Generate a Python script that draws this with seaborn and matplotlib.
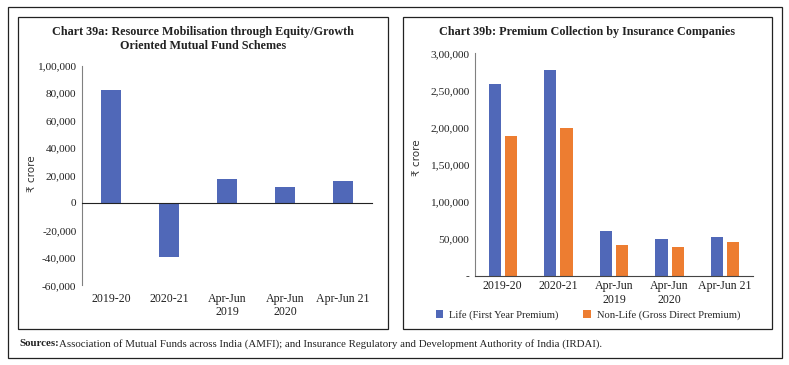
import pandas as pd
import seaborn as sns
import matplotlib.pyplot as plt
import matplotlib.transforms as mtransforms
from matplotlib.patches import Rectangle

# Dados (₹ crore)
categorias = ['2019-20', '2020-21', 'Apr-Jun\n2019', 'Apr-Jun\n2020', 'Apr-Jun 21']
fundos_equity = [82200, -39600, 17100, 11700, 15900]
vida = [259000, 278000, 60700, 49600, 52700]
nao_vida = [189000, 199000, 41100, 39300, 45200]
serie_vida = 'Life (First Year Premium)'
serie_nao_vida = 'Non-Life (Gross Direct Premium)'

AZUL = '#5068B8'
LARANJA = '#ED7D31'

sns.set_style('white')
plt.rcParams['font.family'] = ['Liberation Serif', 'DejaVu Serif', 'DejaVu Sans']
plt.rcParams['axes.edgecolor'] = '#808080'
plt.rcParams['xtick.color'] = '#808080'
plt.rcParams['ytick.color'] = '#808080'
plt.rcParams['xtick.labelcolor'] = '#222222'
plt.rcParams['ytick.labelcolor'] = '#222222'


def formato_indiano(v, zero='0'):
    n = int(round(abs(v)))
    if n == 0:
        return zero
    s = str(n)
    if len(s) > 3:
        cabeca, cauda = s[:-3], s[-3:]
        grupos = []
        while len(cabeca) > 2:
            grupos.insert(0, cabeca[-2:])
            cabeca = cabeca[:-2]
        grupos.insert(0, cabeca)
        s = ','.join(grupos) + ',' + cauda
    return ('-' if v < 0 else '') + s


fig = plt.figure(figsize=(7.89, 3.65), dpi=100)
W, H = 789, 365

def caixa(x0, y0, x1, y1):
    fig.patches.append(Rectangle((x0 / W, 1 - y1 / H), (x1 - x0) / W, (y1 - y0) / H,
                                 transform=fig.transFigure, fill=False,
                                 edgecolor='#222222', linewidth=0.9))

caixa(8, 7, 782, 358)
caixa(18, 17, 388, 329)
caixa(403, 17, 772, 329)

TAM_TICK = 8.2
TAM_CAT = 8.6

# ---------- Chart 39a ----------
ax1 = fig.add_axes([82 / W, 1 - 285.3 / H, 290 / W, 219.6 / H])
df1 = pd.DataFrame({'cat': categorias, 'valor': fundos_equity})
sns.barplot(data=df1, x='cat', y='valor', color=AZUL, width=0.33, saturation=1,
            ax=ax1, edgecolor='none')
ax1.set_ylim(-60000, 100000)
ax1.set_xlim(-0.5, 4.5)
ax1.set_yticks(range(-60000, 100001, 20000))
ax1.set_yticklabels([formato_indiano(v) for v in range(-60000, 100001, 20000)], fontsize=TAM_TICK)
for lado in ['top', 'right']:
    ax1.spines[lado].set_visible(False)
ax1.spines['bottom'].set_position(('data', 0))
ax1.spines['bottom'].set_color('#222222')
ax1.set_xticks([0.5, 1.5, 2.5, 3.5, 4.5])
ax1.set_xticklabels([])
ax1.tick_params(axis='x', length=4, color='#222222', direction='out')
ax1.tick_params(axis='y', length=3, pad=1)
ax1.set_xlabel('')
ax1.set_ylabel('₹ crore', fontsize=7.5, family='DejaVu Sans', color='#333333')
ax1.yaxis.set_label_coords(-0.155, 0.507)
trans = mtransforms.blended_transform_factory(ax1.transData, ax1.transAxes)
for i, c in enumerate(categorias):
    ax1.text(i, -0.035, c, transform=trans, ha='center', va='top', fontsize=TAM_CAT,
             linespacing=1.15, color='#222222')
fig.text(203 / W, 1 - 39 / H, 'Chart 39a: Resource Mobilisation through Equity/Growth\nOriented Mutual Fund Schemes',
         ha='center', va='center', fontsize=8.7, fontweight='bold', linespacing=1.25, color='#222222')

# ---------- Chart 39b ----------
ax2 = fig.add_axes([475 / W, 1 - 276 / H, 278 / W, 222.7 / H])
df2 = pd.DataFrame({
    'cat': categorias * 2,
    'valor': vida + nao_vida,
    'serie': [serie_vida] * len(categorias) + [serie_nao_vida] * len(categorias),
})
sns.barplot(data=df2, x='cat', y='valor', hue='serie', palette=[AZUL, LARANJA],
            width=0.58, gap=0.24, saturation=1, ax=ax2, edgecolor='none')
ax2.set_ylim(0, 300000)
ax2.set_xlim(-0.5, 4.5)
ax2.set_yticks(range(0, 300001, 50000))
ax2.set_yticklabels([formato_indiano(v, zero='-') for v in range(0, 300001, 50000)], fontsize=TAM_TICK)
for lado in ['top', 'right']:
    ax2.spines[lado].set_visible(False)
ax2.spines['bottom'].set_color('#444444')
ax2.set_xticks([0.5, 1.5, 2.5, 3.5, 4.5])
ax2.set_xticklabels([])
ax2.set_xticks(range(len(categorias)), minor=True)
ax2.set_xticklabels(categorias, minor=True, fontsize=TAM_CAT, linespacing=1.15)
ax2.tick_params(axis='x', which='major', length=4, color='#444444')
ax2.tick_params(axis='x', which='minor', length=0, pad=3)
ax2.tick_params(axis='y', length=3, pad=1)
ax2.set_xlabel('')
ax2.set_ylabel('₹ crore', fontsize=7.5, family='DejaVu Sans', color='#333333')
ax2.yaxis.set_label_coords(-0.19, 0.53)
handles, labels = ax2.get_legend_handles_labels()
ax2.get_legend().remove()
fig.legend(handles, labels, loc='center', bbox_to_anchor=(588 / W, 1 - 315 / H), ncol=2,
           frameon=False, fontsize=7.6, handlelength=0.7, handleheight=0.7,
           handletextpad=0.6, columnspacing=2.3)
fig.text(587 / W, 1 - 32 / H, 'Chart 39b: Premium Collection by Insurance Companies',
         ha='center', va='center', fontsize=8.7, fontweight='bold', color='#222222')

# ---------- Fonte ----------
fig.text(19 / W, 1 - 344 / H, 'Sources:', ha='left', va='center', fontsize=7.8, fontweight='bold',
         color='#222222')
fig.text(59 / W, 1 - 344 / H,
         'Association of Mutual Funds across India (AMFI); and Insurance Regulatory and Development Authority of India (IRDAI).',
         ha='left', va='center', fontsize=7.8, color='#222222')

fig.savefig('out.png', dpi=100)
